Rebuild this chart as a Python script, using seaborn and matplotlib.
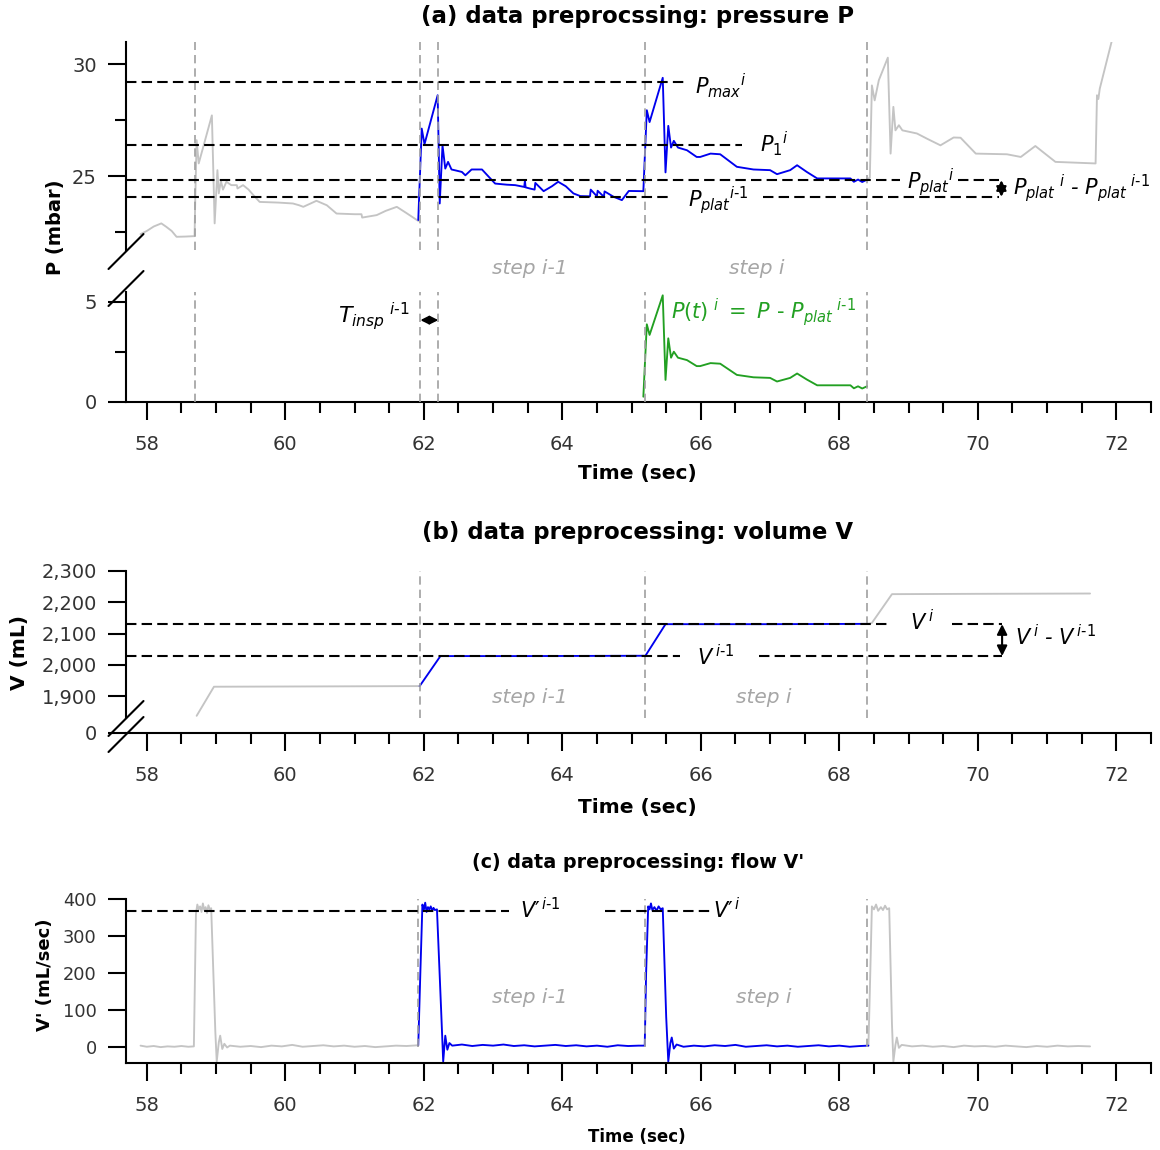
import numpy as np
import matplotlib
matplotlib.use("Agg")
import matplotlib.pyplot as plt
import seaborn as sns
from matplotlib.lines import Line2D
from matplotlib.ticker import MultipleLocator, FixedLocator
from matplotlib.transforms import blended_transform_factory

# ---------------- data ----------------
# pressure (mbar): breath before step i-1
t_p_pre = [57.91, 58.00, 58.10, 58.21, 58.28, 58.36, 58.43, 58.55, 58.69, 58.70, 58.72, 58.75,
           58.94, 58.98, 59.02, 59.04, 59.07, 59.10, 59.15, 59.22, 59.30, 59.31, 59.39, 59.47,
           59.54, 59.63, 59.90, 60.11, 60.20, 60.26, 60.45, 60.60, 60.74, 61.00, 61.10, 61.11,
           61.32, 61.45, 61.61, 61.75, 61.92]
p_pre = [22.41, 22.55, 22.75, 22.89, 22.74, 22.55, 22.29, 22.30, 22.32, 24.00, 26.61, 25.57,
         27.72, 22.89, 25.27, 24.23, 24.80, 24.40, 24.75, 24.60, 24.60, 24.45, 24.60, 24.40,
         24.15, 23.85, 23.82, 23.78, 23.70, 23.63, 23.90, 23.70, 23.33, 23.30, 23.30, 23.15,
         23.26, 23.45, 23.63, 23.35, 23.00]

# pressure: steps i-1 and i
t_p_step = [61.92, 61.97, 62.01, 62.20, 62.23, 62.27, 62.31, 62.35, 62.40, 62.47, 62.55, 62.60,
            62.69, 62.84, 62.93, 63.03, 63.20, 63.32, 63.45, 63.46, 63.47, 63.53, 63.60, 63.61,
            63.73, 63.85, 63.94, 64.05, 64.16, 64.26, 64.40, 64.41, 64.50, 64.51, 64.60, 64.61,
            64.74, 64.86, 64.96, 65.17, 65.22, 65.26, 65.45, 65.49, 65.53, 65.57, 65.61, 65.67,
            65.80, 65.94, 65.99, 66.14, 66.28, 66.40, 66.52, 66.76, 67.00, 67.10, 67.29, 67.39,
            67.53, 67.68, 68.00, 68.16, 68.21, 68.27, 68.33, 68.40]
p_step = [23.04, 27.13, 26.43, 28.62, 23.78, 26.38, 25.34, 25.64, 25.30, 25.25, 25.19, 25.04,
          25.30, 25.30, 25.00, 24.67, 24.62, 24.60, 24.52, 24.80, 24.50, 24.45, 24.40, 24.70,
          24.33, 24.55, 24.75, 24.55, 24.23, 24.11, 24.10, 24.40, 24.10, 24.35, 24.08, 24.32,
          24.08, 23.93, 24.34, 24.33, 27.95, 27.42, 29.40, 25.17, 27.25, 26.28, 26.58, 26.28,
          26.16, 25.86, 25.86, 26.01, 25.98, 25.70, 25.42, 25.30, 25.27, 25.09, 25.27, 25.49,
          25.19, 24.90, 24.90, 24.90, 24.75, 24.85, 24.74, 24.85]

# pressure: following breath
t_p_post = [68.40, 68.44, 68.47, 68.51, 68.57, 68.70, 68.74, 68.78, 68.81, 68.86, 68.91, 69.12,
            69.27, 69.46, 69.65, 69.75, 69.97, 70.42, 70.62, 70.83, 71.12, 71.70, 71.72, 71.74,
            71.76, 71.93]
p_post = [24.85, 24.94, 29.06, 28.39, 29.29, 30.30, 26.01, 28.10, 27.05, 27.28, 27.05, 26.91,
          26.67, 26.38, 26.73, 26.72, 26.01, 25.98, 25.86, 26.35, 25.64, 25.57, 28.62, 28.45,
          28.91, 31.00]

# reference pressure levels (mbar)
p_max_i = 29.21
p_1_i = 26.38
p_plat_i = 24.82
p_plat_prev = 24.08

# volume (mL)
t_v_pre = [58.72, 58.97, 60.50, 61.94]
v_pre = [1837, 1930, 1931, 1932]
t_v_step = [61.94, 62.24, 63.50, 65.20, 65.49, 67.00, 68.42]
v_step = [1932, 2028, 2028, 2029, 2130, 2130, 2131]
t_v_post = [68.42, 68.47, 68.76, 70.00, 71.62]
v_post = [2131, 2134, 2226, 2227, 2228]
v_i = 2130
v_prev = 2028

# flow (mL/sec)
t_f_pre = [57.91, 58.00, 58.10, 58.20, 58.30, 58.40, 58.50, 58.60, 58.68, 58.71, 58.73, 58.75,
           58.77, 58.79, 58.81, 58.83, 58.85, 58.87, 58.89, 58.91, 58.93, 58.99, 59.01, 59.04,
           59.06, 59.09, 59.12, 59.16, 59.20, 59.35, 59.50, 59.65, 59.80, 59.95, 60.10, 60.25,
           60.40, 60.55, 60.70, 60.85, 61.00, 61.15, 61.30, 61.45, 61.60, 61.75, 61.92]
f_pre = [3, 0, 2, -1, 1, 0, 2, 0, 1, 360, 385, 372, 380, 365, 388, 370, 378, 362, 383, 372,
         375, 40, -40, 12, 30, -6, 8, -2, 3, 0, 2, -1, 3, 1, 5, 0, 2, 4, 1, 3, 0, 2, -1, 1, 3, 2, 4]
t_f_step = [61.92, 61.95, 61.98, 62.00, 62.02, 62.04, 62.06, 62.08, 62.10, 62.12, 62.14, 62.16,
            62.19, 62.25, 62.28, 62.31, 62.34, 62.37, 62.41, 62.55, 62.70, 62.85, 63.00, 63.15,
            63.30, 63.45, 63.60, 63.75, 63.90, 64.05, 64.20, 64.35, 64.50, 64.65, 64.80, 64.95,
            65.10, 65.19, 65.21, 65.24, 65.26, 65.28, 65.30, 65.33, 65.36, 65.39, 65.42, 65.45,
            65.50, 65.53, 65.56, 65.58, 65.61, 65.65, 65.75, 65.90, 66.05, 66.20, 66.35, 66.50,
            66.65, 66.80, 66.95, 67.10, 67.25, 67.40, 67.55, 67.70, 67.85, 68.00, 68.15, 68.30,
            68.42]
f_step = [4, 200, 385, 370, 390, 365, 378, 372, 380, 368, 376, 370, 372, 100, -40, 30, -8, 10,
          3, 6, 2, 5, 3, 6, 2, 4, 1, 3, 5, 2, 4, 1, 3, 0, 4, 2, 3, 3, 200, 380, 372, 388, 370,
          378, 368, 380, 372, 375, 80, -40, 10, 25, -5, 6, 0, 3, 1, 4, 2, 5, 0, 2, 4, 1, 3, 0, 2,
          4, 1, 3, 0, 2, 3]
t_f_post = [68.42, 68.44, 68.47, 68.50, 68.53, 68.56, 68.60, 68.63, 68.66, 68.69, 68.72, 68.76,
            68.78, 68.81, 68.83, 68.86, 68.90, 69.05, 69.20, 69.35, 69.50, 69.65, 69.80, 69.95,
            70.10, 70.25, 70.40, 70.55, 70.70, 70.85, 71.00, 71.15, 71.30, 71.45, 71.62]
f_post = [3, 150, 380, 372, 385, 368, 378, 370, 382, 372, 375, 60, -40, 5, 25, -3, 5, 1, 3, 0,
          2, -1, 3, 1, 2, 0, 3, 1, -1, 2, 0, 3, 1, 2, 1]
f_insp = 368

# breath boundaries (sec)
t_bounds_p = [58.69, 61.95, 62.21, 65.20, 68.40]
t_bounds_v = [61.95, 65.20, 68.40]
t_bounds_f = [61.91, 65.20, 68.40]

x_major = np.arange(58, 73, 2)
v_ticks = [1900, 2000, 2100, 2200, 2300]
v_ticklabels = ["1,900", "2,000", "2,100", "2,200", "2,300"]
f_ticks = [0, 100, 200, 300, 400]

# ---------------- style ----------------
sns.set_style("ticks")
plt.rcParams['font.family'] = ['DejaVu Sans']
plt.rcParams['mathtext.fontset'] = 'dejavusans'
plt.rcParams['text.color'] = 'black'

GREY = '#C4C4C4'
BLUE = '#0000EE'
GREEN = '#22A022'
VGREY = '#A0A0A0'
STEPC = '#A6A6A6'
TICKC = '#333333'
XLIM = (57.7, 72.5)

W, H = 1160, 1150
fig = plt.figure(figsize=(W / 100, H / 100), dpi=100)


def add_axes_px(x0, y0, x1, y1):
    return fig.add_axes([x0 / W, 1 - y1 / H, (x1 - x0) / W, (y1 - y0) / H])


def style(ax, bottom=True, ylab=14):
    ax.set_xlim(*XLIM)
    for s in ('top', 'right'):
        ax.spines[s].set_visible(False)
    for s in ('left', 'bottom'):
        ax.spines[s].set_linewidth(1.5)
        ax.spines[s].set_color('k')
    ax.tick_params(axis='both', which='major', length=13, width=1.5, color='k',
                   labelcolor=TICKC)
    ax.tick_params(axis='both', which='minor', length=8, width=1.5, color='k')
    ax.tick_params(axis='y', pad=8, labelsize=ylab)
    ax.tick_params(axis='x', pad=11, labelsize=14)
    if bottom:
        ax.xaxis.set_major_locator(FixedLocator(x_major))
        ax.xaxis.set_minor_locator(MultipleLocator(0.5))
    else:
        ax.spines['bottom'].set_visible(False)
        ax.tick_params(axis='x', which='both', bottom=False, labelbottom=False)
    ax.set_xlabel('')
    ax.set_ylabel('')


def trace(ax, t, y, color, lw=1.35):
    sns.lineplot(x=t, y=y, ax=ax, color=color, linewidth=lw, estimator=None,
                 sort=False, legend=False, zorder=2)


def vbounds(ax, xs, y0=None, y1=None):
    for x in xs:
        if y0 is None:
            ax.axvline(x, color=VGREY, lw=1.2, ls=(0, (5, 3)), zorder=3)
        else:
            ax.vlines(x, y0, y1, color=VGREY, lw=1.2, ls=(0, (5, 3)), zorder=3)


def hdash(ax, y, x0, x1):
    ax.hlines(y, x0, x1, color='k', lw=1.5, ls=(0, (5, 2.5)), zorder=4)


def break_mark(cx, cy):
    fig.add_artist(Line2D([(cx - 17.5) / W, (cx + 17.5) / W],
                          [1 - (cy + 17.5) / H, 1 - (cy - 17.5) / H],
                          color='k', lw=1.5, transform=fig.transFigure))


def darrow(ax, p0, p1, ms=12):
    ax.annotate('', xy=p1, xytext=p0,
                arrowprops=dict(arrowstyle='<|-|>', color='k', lw=1.5,
                                mutation_scale=ms, shrinkA=0, shrinkB=0), zorder=5)


def step_labels(ax, y, xs, trans=None):
    for x, s in zip(xs, ['step i-1', 'step i']):
        ax.text(x, y, s, color=STEPC, fontsize=14.5, style='italic', ha='center',
                va='center', transform=trans or ax.transData, clip_on=False)


MI = dict(fontsize=15, color='k', va='center', ha='left')

# ---------------- (a) pressure ----------------
axa = add_axes_px(126, 42, 1151, 250)
axa2 = add_axes_px(126, 291.7, 1151, 401.7)

trace(axa, t_p_pre, p_pre, GREY)
trace(axa, t_p_post, p_post, GREY)
trace(axa, t_p_step, p_step, BLUE)
axa.set_ylim(21.7, 31.0)
style(axa, bottom=False)
axa.yaxis.set_major_locator(MultipleLocator(5))
axa.yaxis.set_minor_locator(MultipleLocator(2.5))
vbounds(axa, t_bounds_p)

hdash(axa, p_max_i, XLIM[0], 65.82)
hdash(axa, p_1_i, XLIM[0], 66.59)
hdash(axa, p_plat_i, XLIM[0], 68.88)
hdash(axa, p_plat_i, 69.72, 70.30)
hdash(axa, p_plat_prev, XLIM[0], 65.56)
hdash(axa, p_plat_prev, 66.90, 70.30)
axa.text(65.92, 29.05, r'${P_{max}}^{i}$', **MI)
axa.text(66.86, 26.45, r'${P_1}^{i}$', **MI)
axa.text(68.97, 24.76, r'${P_{plat}}^{i}$', **MI)
axa.text(65.81, 23.93, r'${P_{plat}}^{i\text{-}1}$', **MI)
darrow(axa, (70.34, p_plat_prev), (70.34, p_plat_i), ms=15)
axa.text(70.51, 24.45, r'${P_{plat}}^{\ i}$ - ${P_{plat}}^{\ i\text{-}1}$', clip_on=False,
         style='italic', **MI)

# lower part: P(t) relative to previous plateau
t_green = [t for t in t_p_step if t >= 65.17]
p_green = [p - p_plat_prev for t, p in zip(t_p_step, p_step) if t >= 65.17]
trace(axa2, t_green, p_green, GREEN)
axa2.set_ylim(0, 5.5)
style(axa2)
axa2.yaxis.set_major_locator(MultipleLocator(5))
axa2.yaxis.set_minor_locator(MultipleLocator(2.5))
vbounds(axa2, t_bounds_p)
darrow(axa2, (t_bounds_p[1], 4.08), (t_bounds_p[2], 4.08), ms=12)
axa2.text(61.80, 4.30, r'${T_{insp}}^{\ i\text{-}1}$', fontsize=16, ha='right', va='center')
axa2.text(65.57, 4.49, r'$P(t)^{\ i}\ =\ P\ \text{-}\ {P_{plat}}^{\ i\text{-}1}$',
          fontsize=15, color=GREEN, ha='left', va='center')

step_labels(axa, 1 - 268 / H, [63.53, 66.81],
            trans=blended_transform_factory(axa.transData, fig.transFigure))
break_mark(126, 251.5)
break_mark(126, 288.5)

# ---------------- (b) volume ----------------
axb = add_axes_px(126, 571, 1151, 718)
axb2 = add_axes_px(126, 726, 1151, 733)
trace(axb, t_v_pre, v_pre, GREY)
trace(axb, t_v_post, v_post, GREY)
trace(axb, t_v_step, v_step, BLUE)
axb.set_ylim(1830, 2300)
style(axb, bottom=False)
axb.yaxis.set_major_locator(FixedLocator(v_ticks))
axb.set_yticklabels(v_ticklabels)
vbounds(axb, t_bounds_v)
hdash(axb, v_i, XLIM[0], 68.72)
hdash(axb, v_i, 69.63, 70.35)
hdash(axb, v_prev, XLIM[0], 65.70)
hdash(axb, v_prev, 66.84, 70.35)
axb.text(69.02, 2138, r'$V^{\,i}$', **MI)
axb.text(65.95, 2025, r'$V^{\,i\text{-}1}$', **MI)
darrow(axb, (70.35, v_prev), (70.35, v_i), ms=15)
axb.text(70.54, 2090, r'$V^{\,i}$ - $V^{\,i\text{-}1}$', style='italic', clip_on=False, **MI)
step_labels(axb, 1897, [63.53, 66.91])

axb2.set_ylim(0, 1)
style(axb2)
axb2.spines['left'].set_visible(False)
axb2.yaxis.set_major_locator(FixedLocator([0]))
axb2.patch.set_alpha(0)
break_mark(126, 718.5)
break_mark(126, 734.5)

# ---------------- (c) flow ----------------
axc = add_axes_px(126, 899, 1151, 1063)
trace(axc, t_f_pre, f_pre, GREY)
trace(axc, t_f_post, f_post, GREY)
trace(axc, t_f_step, f_step, BLUE)
axc.set_ylim(-44, 400)
style(axc, ylab=12.8)
axc.yaxis.set_major_locator(FixedLocator(f_ticks))
vbounds(axc, t_bounds_f, 0, 400)
hdash(axc, f_insp, XLIM[0], 63.23)
hdash(axc, f_insp, 64.62, 66.15)
axc.text(63.39, 371, "$V′^{\\,i\\text{-}1}$", **MI)
axc.text(66.18, 371, "$V′^{\\,i}$", **MI)
step_labels(axc, 132, [63.53, 66.91])

# ---------------- titles and axis labels ----------------
def ftext(px, py, s, **kw):
    fig.text(px / W, 1 - py / H, s, ha='center', va='center', color='black', **kw)

ftext(638, 17, '(a) data preprocssing: pressure P', fontsize=16.5, fontweight='bold')
ftext(638, 532, '(b) data preprocessing: volume V', fontsize=16.5, fontweight='bold')
ftext(638, 862, "(c) data preprocessing: flow V'", fontsize=13.8, fontweight='bold')
ftext(637, 473, 'Time (sec)', fontsize=14.5, fontweight='bold')
ftext(637, 807, 'Time (sec)', fontsize=14.5, fontweight='bold')
ftext(637, 1137, 'Time (sec)', fontsize=12, fontweight='bold')
ftext(55, 227, 'P (mbar)', fontsize=14, fontweight='bold', rotation=90)
ftext(20, 652, 'V (mL)', fontsize=14.5, fontweight='bold', rotation=90)
ftext(45, 975, "V' (mL/sec)", fontsize=13, fontweight='bold', rotation=90)

fig.savefig('out.png', dpi=100, facecolor='white')
